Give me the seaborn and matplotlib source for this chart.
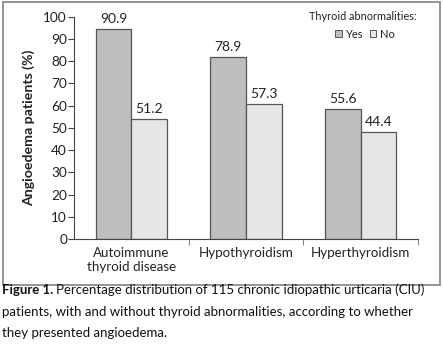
import matplotlib
matplotlib.use("Agg")
import matplotlib.pyplot as plt
from matplotlib.patches import Rectangle, Patch
import seaborn as sns
import pandas as pd

categories = ["Autoimmune\nthyroid disease", "Hypothyroidism", "Hyperthyroidism"]
groups = ["Yes", "No"]
yes_values = [94.6, 82.0, 58.4]
no_values = [53.9, 60.6, 48.1]
yes_labels = ["90.9", "78.9", "55.6"]
no_labels = ["51.2", "57.3", "44.4"]
y_ticks = [0, 10, 20, 30, 40, 50, 60, 70, 80, 90, 100]

sns.set_style("white")
plt.rcParams["font.family"] = ["Lato", "DejaVu Sans"]

df = pd.DataFrame({
    "category": categories * 2,
    "group": ["Yes"] * 3 + ["No"] * 3,
    "value": yes_values + no_values,
})

W, H = 443, 350
fig = plt.figure(figsize=(W / 100, H / 100), dpi=100)
ax = fig.add_axes([74 / W, 1 - 239 / H, (418 - 74) / W, (239 - 16.7) / H])

colors = {"Yes": "#bdbec2", "No": "#e6e6e8"}
sns.barplot(data=df, x="category", y="value", hue="group", hue_order=groups,
            order=categories, palette=colors, width=0.62, gap=0,
            edgecolor="#555555", linewidth=0.9, ax=ax, legend=False)

# value labels
label_map = {"Yes": yes_labels, "No": no_labels}
for container, g in zip(ax.containers, groups):
    for bar, lab in zip(container, label_map[g]):
        ax.annotate(lab, (bar.get_x() + bar.get_width() / 2, bar.get_height()),
                    xytext=(0, 3), textcoords="offset points",
                    ha="center", va="bottom", fontsize=10, color="#222222")

ax.set_ylim(0, 100)
ax.set_xlim(-0.5, 2.5)
ax.set_yticks(y_ticks)
ax.set_xlabel("")
ax.set_ylabel("Angioedema patients (%)", fontsize=10.2, fontweight="bold",
              color="#222222", labelpad=6)
ax.tick_params(axis="y", length=4, width=0.8, color="#444444", labelsize=9.8,
               labelcolor="#222222", pad=1, direction="out", left=True)
ax.tick_params(axis="x", which="major", length=0, labelsize=9.6,
               labelcolor="#222222", pad=6)
ax.set_xticks([0.5, 1.5, 2.5], minor=True)
ax.tick_params(axis="x", which="minor", length=4, width=0.8, color="#888888",
               direction="out", bottom=True)
for s in ["top", "right"]:
    ax.spines[s].set_visible(False)
for s in ["left", "bottom"]:
    ax.spines[s].set_color("#444444")
    ax.spines[s].set_linewidth(0.8)

# legend
ax.text(0.995, 100, "Thyroid abnormalities:", transform=ax.get_yaxis_transform(),
        ha="right", va="center", fontsize=7.8, color="#222222")
handles = [Patch(facecolor=colors[g], edgecolor="#555555", linewidth=0.7, label=g)
           for g in groups]
leg = ax.legend(handles=handles, ncol=2, frameon=False, loc="center",
                bbox_to_anchor=(365 / W, 1 - 34 / H), bbox_transform=fig.transFigure,
                fontsize=8.0, handlelength=0.6, handleheight=0.6,
                handletextpad=0.3, columnspacing=0.6, borderaxespad=0,
                borderpad=0)
for t in leg.get_texts():
    t.set_color("#222222")

# frame
fig.patches.append(Rectangle((3 / W, 1 - 285 / H), 437 / W, 283 / H,
                             transform=fig.transFigure, fill=False,
                             edgecolor="#8c8c8c", linewidth=1.3))

# caption
cap_size = 9.5
fig.canvas.draw()
r = fig.canvas.get_renderer()
t1 = fig.text(2 / W, 1 - 290 / H, "Figure 1.", fontsize=cap_size, fontweight="bold",
              va="center", ha="left", color="#111111")
bb = t1.get_window_extent(renderer=r)
fig.text(bb.x1 / W + 3 / W, 1 - 290 / H,
         "Percentage distribution of 115 chronic idiopathic urticaria (CIU)",
         fontsize=cap_size, va="center", ha="left", color="#111111")
fig.text(2 / W, 1 - 311.5 / H,
         "patients, with and without thyroid abnormalities, according to whether",
         fontsize=cap_size, va="center", ha="left", color="#111111")
fig.text(2 / W, 1 - 333 / H, "they presented angioedema.",
         fontsize=cap_size, va="center", ha="left", color="#111111")

fig.savefig("out.png", dpi=100)
